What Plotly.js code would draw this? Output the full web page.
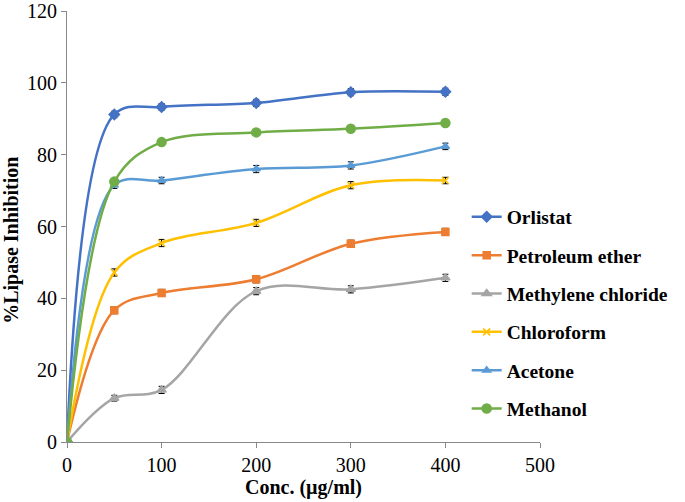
<!DOCTYPE html>
<html>
<head>
<meta charset="utf-8">
<script src="https://cdn.plot.ly/plotly-3.0.1.min.js"></script>
<style>
  html, body { margin: 0; padding: 0; background: #fff; }
  #chart { width: 685px; height: 502px; }
</style>
</head>
<body>
<div id="chart"></div>
<script>
// concentrations (µg/ml)
let conc = [0, 50, 100, 200, 300, 400];

let orlistat = [0, 91.2, 93.3, 94.4, 97.4, 97.5];
let petroleumEther = [0, 36.7, 41.5, 45.3, 55.2, 58.5];
let methyleneChloride = [0, 12.2, 14.5, 42.0, 42.5, 45.7];
let chloroform = [0, 47.2, 55.4, 61.0, 71.5, 72.8];
let acetone = [0, 71.5, 72.8, 76.0, 77.0, 82.3];
let methanol = [0, 72.5, 83.5, 86.2, 87.2, 88.8];

// error bars (SD)
let errOrlistat = [0, 0.9, 0.9, 1.0, 1.0, 1.0];
let errPetroleum = [0, 1.0, 1.0, 1.0, 1.0, 1.0];
let errMethylene = [0, 0.8, 1.0, 1.0, 1.0, 1.0];
let errChloroform = [0, 1.0, 1.0, 1.0, 1.0, 0.9];
let errAcetone = [0, 0.9, 0.9, 1.0, 1.0, 0.9];
let errMethanol = [0, 0, 0, 0, 0, 0];

function series(name, y, err, color, symbol, size) {
    return {
        x: conc,
        y: y,
        name: name,
        legendgroup: name,
        type: "scatter",
        mode: "lines+markers",
        line: {color: color, width: 2.5, shape: "spline", smoothing: 1},
        marker: {color: color, symbol: symbol, size: size, line: {color: color, width: 1.5}},
        error_y: {type: "data", array: err, visible: true, color: "#000", thickness: 1, width: 3}
    };
}

let data = [
    series("Orlistat", orlistat, errOrlistat, "#4472C4", "diamond", 8),
    series("Petroleum ether", petroleumEther, errPetroleum, "#ED7D31", "square", 7),
    series("Methylene chloride", methyleneChloride, errMethylene, "#A5A5A5", "triangle-up", 8),
    series("Chloroform", chloroform, errChloroform, "#FFC000", "x-thin", 7),
    series("Acetone", acetone, errAcetone, "#5B9BD5", "triangle-up", 7),
    series("Methanol", methanol, errMethanol, "#70AD47", "circle", 9)
];

let serif = "'Liberation Serif', 'Times New Roman', serif";

let layout = {
    width: 685,
    height: 502,
    margin: {l: 67, r: 145, t: 11, b: 60},
    paper_bgcolor: "#fff",
    plot_bgcolor: "#fff",
    font: {family: serif, size: 20, color: "#000"},
    showlegend: true,
    legend: {
        x: 0.845, y: 0.567, xanchor: "left", yanchor: "top",
        bgcolor: "rgba(0,0,0,0)",
        font: {family: serif, size: 19.5, color: "#000", weight: "bold"},
        tracegroupgap: 10
    },
    xaxis: {
        range: [0, 500],
        tickvals: [0, 100, 200, 300, 400, 500],
        showgrid: false, zeroline: false,
        showline: true, linecolor: "#888", linewidth: 1,
        ticks: "outside", ticklen: 5, tickcolor: "#888",
        ticklabeloverflow: "allow",
        tickfont: {family: serif, size: 20, color: "#000"},
        title: {text: "Conc. (µg/ml)", font: {family: serif, size: 20, color: "#000", weight: "bold"}, standoff: 2}
    },
    yaxis: {
        range: [0, 120],
        tickvals: [0, 20, 40, 60, 80, 100, 120],
        showgrid: false, zeroline: false,
        showline: true, linecolor: "#888", linewidth: 1,
        ticks: "outside", ticklen: 5, tickcolor: "#888",
        ticklabeloverflow: "allow",
        tickfont: {family: serif, size: 20, color: "#000"}
    },
    annotations: [{
        text: "%Lipase Inhibition",
        xref: "paper", yref: "paper",
        x: -0.116, y: 0.467,
        xanchor: "center", yanchor: "middle",
        textangle: -90, showarrow: false,
        font: {family: serif, size: 20, color: "#000", weight: "bold"}
    }]
};

Plotly.newPlot("chart", data, layout, {displayModeBar: false, staticPlot: true});
</script>
</body>
</html>
